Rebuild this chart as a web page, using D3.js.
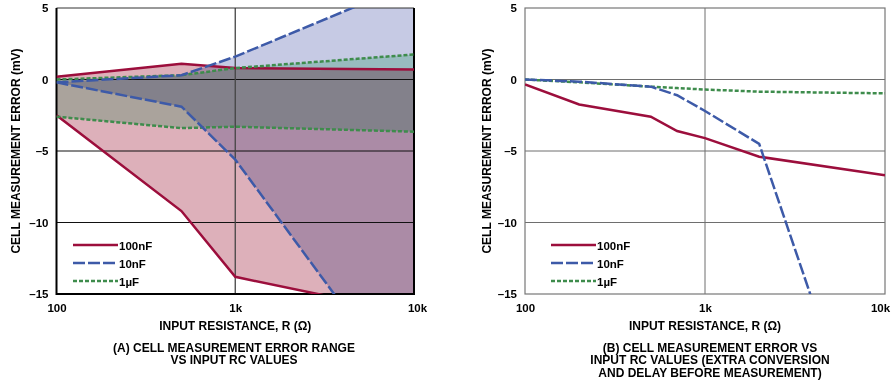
<!DOCTYPE html>
<html><head><meta charset="utf-8">
<script src="https://cdn.jsdelivr.net/npm/d3@7"></script>
<style>
body{margin:0;background:#fff;}
text{font-family:"Liberation Sans",Arial,sans-serif;font-weight:bold;font-size:11.5px;fill:#000;}
text.title{font-size:12px;}
</style></head><body>
<svg id="c" width="892" height="381"></svg>
<script>
// ---- data ----
const xTicks = [100, 1000, 10000];
const xTickLabels = ["100", "1k", "10k"];
const yTicks = [-15, -10, -5, 0, 5];
const yTickLabels = ["–15", "–10", "–5", "0", "5"];
const seriesNames = ["100nF", "10nF", "1µF"];
const seriesColors = ["#9c0e3c", "#3d5aa8", "#3e8c4c"];
const fillColors = ["#ddb0ba", "#c6cae4", "#c4ecd6"];

// Panel A: error range (upper / lower bounds)
const a100nF_R = [100, 500, 1000, 10000];
const a100nF_hi = [0.2, 1.1, 0.8, 0.7];
const a100nF_lo = [-2.5, -9.2, -13.8, -16.4];
const a10nF_R = [100, 500, 1000, 10000];
const a10nF_hi = [-0.2, 0.3, 1.6, 6.8];
const a10nF_lo = [-0.2, -1.9, -5.6, -22.6];
const a1uF_R = [100, 500, 1000, 10000];
const a1uF_hi = [0.0, 0.3, 0.8, 1.75];
const a1uF_lo = [-2.6, -3.4, -3.3, -3.65];

// Panel B: error with extra conversion and delay
const b100nF_R = [100, 200, 500, 700, 1000, 2000, 10000];
const b100nF = [-0.35, -1.75, -2.6, -3.6, -4.1, -5.4, -6.7];
const b10nF_R = [100, 200, 500, 700, 1000, 2000, 10000];
const b10nF = [0.0, -0.15, -0.5, -1.1, -2.2, -4.5, -30.4];
const b1uF_R = [100, 200, 500, 700, 1000, 2000, 10000];
const b1uF = [0.0, -0.2, -0.5, -0.6, -0.7, -0.85, -0.97];

const captionA = ["(A) CELL MEASUREMENT ERROR RANGE", "VS INPUT RC VALUES"];
const captionB = ["(B) CELL MEASUREMENT ERROR VS", "INPUT RC VALUES (EXTRA CONVERSION", "AND DELAY BEFORE MEASUREMENT)"];
const xTitle = "INPUT RESISTANCE, R (Ω)";
const yTitle = "CELL MEASUREMENT ERROR (mV)";

const dashes = [null, "12,3", "4,2"];

const svg = d3.select("#c");
const plotTop = 8, plotBottom = 294;

function panel(id, x0, x1) {
  const g = svg.append("g");
  const x = d3.scaleLog().domain([100, 10000]).range([x0, x1]);
  const y = d3.scaleLinear().domain([-15, 5]).range([plotBottom, plotTop]);
  const clip = "clip" + id;
  svg.append("clipPath").attr("id", clip).append("rect")
    .attr("x", x0).attr("y", plotTop).attr("width", x1 - x0).attr("height", plotBottom - plotTop);
  return {g, x, y, clip};
}

function drawFrame(p, heavy) {
  const {g, x, y} = p;
  const gridColor = heavy ? "#111" : "#6e6e6e";
  [-10, -5, 0].forEach(v => g.append("line")
    .attr("x1", x(100)).attr("x2", x(10000)).attr("y1", y(v)).attr("y2", y(v))
    .attr("stroke", gridColor).attr("stroke-width", 1));
  g.append("line").attr("x1", x(1000)).attr("x2", x(1000)).attr("y1", y(5)).attr("y2", y(-15))
    .attr("stroke", heavy ? "#444" : "#6e6e6e").attr("stroke-width", heavy ? 1.3 : 1);
  if (heavy) {
    g.append("line").attr("x1", x(100)).attr("x2", x(10000)).attr("y1", y(5)).attr("y2", y(5))
      .attr("stroke", "#333").attr("stroke-width", 1);
    g.append("path").attr("d", `M${x(100)},${y(5)}V${y(-15)}H${x(10000)}V${y(5)}`)
      .attr("fill", "none").attr("stroke", "#000").attr("stroke-width", 2);
  } else {
    g.append("rect").attr("x", x(100)).attr("y", y(5)).attr("width", x(10000) - x(100)).attr("height", y(-15) - y(5))
      .attr("fill", "none").attr("stroke", "#777").attr("stroke-width", 1.2);
  }
}

function axes(p, yTitleX, captionX, caption, lastDx) {
  const {g, x, y} = p;
  const ax = g.append("g").attr("transform", `translate(0,${plotBottom})`)
    .call(d3.axisBottom(x).tickValues(xTicks).tickSize(0).tickPadding(10)
      .tickFormat(d => xTickLabels[xTicks.indexOf(d)]));
  ax.select(".domain").remove();
  ax.attr("font-size", null).attr("font-family", null);
  ax.selectAll("text").filter(d => d === 10000).attr("dx", lastDx);
  const ay = g.append("g").attr("transform", `translate(${x(100)},0)`)
    .call(d3.axisLeft(y).tickValues(yTicks).tickSize(0).tickPadding(8)
      .tickFormat(d => yTickLabels[yTicks.indexOf(d)]));
  ay.select(".domain").remove();
  ay.attr("font-size", null).attr("font-family", null);
  const cx = (x(100) + x(10000)) / 2;
  g.append("text").attr("class", "title").attr("x", cx).attr("y", 330).attr("text-anchor", "middle").text(xTitle);
  g.append("text").attr("class", "title").attr("transform", `translate(${yTitleX},${(plotTop + plotBottom) / 2}) rotate(-90)`)
    .attr("text-anchor", "middle").attr("dy", "0.35em").text(yTitle);
  caption.forEach((t, i) => g.append("text").attr("class", "title").attr("x", captionX).attr("y", 352 + i * 12.3)
    .attr("text-anchor", "middle").text(t));
}

function legend(g, lx) {
  const ys = [245, 263, 281];
  seriesNames.forEach((n, i) => {
    g.append("line").attr("x1", lx).attr("x2", lx + 45).attr("y1", ys[i]).attr("y2", ys[i])
      .attr("stroke", seriesColors[i]).attr("stroke-width", 2.5)
      .attr("stroke-dasharray", dashes[i]);
    g.append("text").attr("x", lx + 46).attr("y", ys[i] + 5).text(n);
  });
}

// ---------- Panel A ----------
const pA = panel("A", 56.5, 414);
{
  const {g, x, y, clip} = pA;
  const fg = g.append("g").attr("clip-path", `url(#${clip})`).style("isolation", "isolate");
  const bands = [
    [a100nF_R, a100nF_hi, a100nF_lo],
    [a10nF_R, a10nF_hi, a10nF_lo],
    [a1uF_R, a1uF_hi, a1uF_lo]
  ];
  const area = d3.area().x(d => x(d.r)).y0(d => y(d.lo)).y1(d => y(d.hi));
  bands.forEach((b, i) => {
    const d = b[0].map((r, k) => ({r, hi: b[1][k], lo: b[2][k]}));
    fg.append("path").attr("d", area(d)).attr("fill", fillColors[i])
      .style("mix-blend-mode", "multiply");
  });
  drawFrame(pA, true);
  const lg = g.append("g").attr("clip-path", `url(#${clip})`);
  const line = d3.line().x(d => x(d[0])).y(d => y(d[1]));
  [0, 2, 1].forEach(i => {
    const b = bands[i];
    [b[1], b[2]].forEach(vals => {
      lg.append("path").attr("d", line(b[0].map((r, k) => [r, vals[k]])))
        .attr("fill", "none").attr("stroke", seriesColors[i]).attr("stroke-width", 2.5)
        .attr("stroke-dasharray", dashes[i]);
    });
  });
  axes(pA, 16, 234, captionA, 3);
  legend(g, 73);
}

// ---------- Panel B ----------
const pB = panel("B", 525, 885);
{
  const {g, x, y, clip} = pB;
  drawFrame(pB, false);
  const lg = g.append("g").attr("clip-path", `url(#${clip})`);
  const line = d3.line().x(d => x(d[0])).y(d => y(d[1]));
  const data = [[b100nF_R, b100nF], [b10nF_R, b10nF], [b1uF_R, b1uF]];
  [0, 2, 1].forEach(i => {
    lg.append("path").attr("d", line(data[i][0].map((r, k) => [r, data[i][1][k]])))
      .attr("fill", "none").attr("stroke", seriesColors[i]).attr("stroke-width", 2.5)
      .attr("stroke-dasharray", dashes[i]);
  });
  axes(pB, 487, 710, captionB, -5);
  legend(g, 551);
}
</script></body></html>
